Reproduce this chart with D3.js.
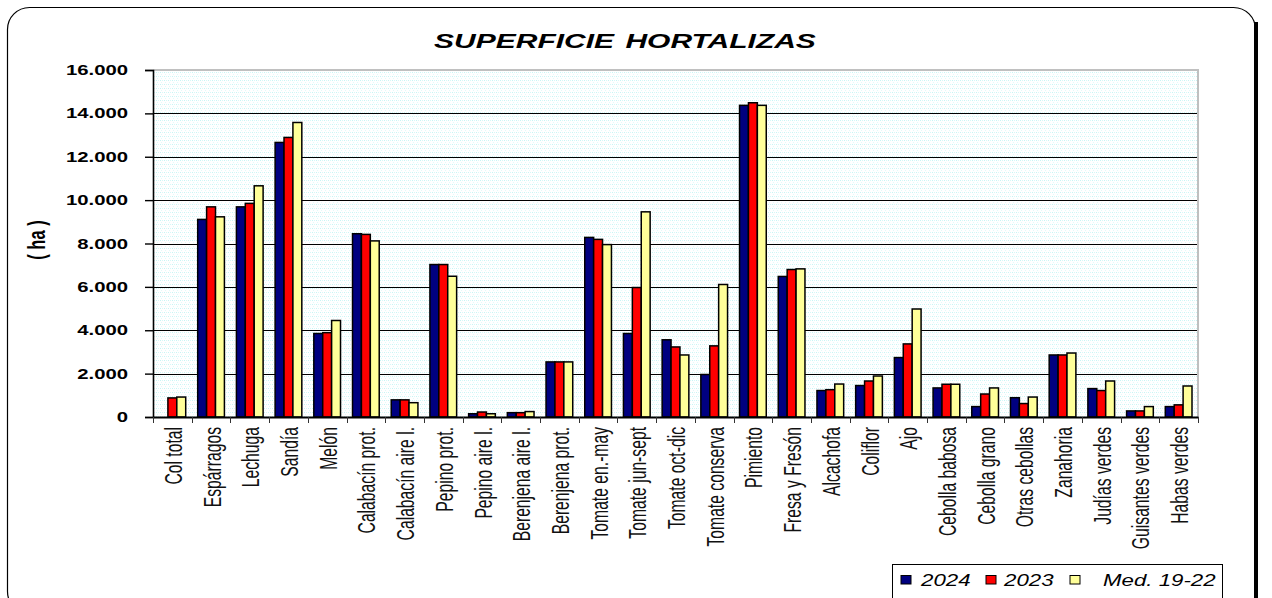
<!DOCTYPE html>
<html>
<head>
<meta charset="utf-8">
<script src="https://cdn.jsdelivr.net/npm/d3@7"></script>
<style>
  body { margin: 0; background: #fff; }
  svg { display: block; font-family: "Liberation Sans", Arial, sans-serif; }
</style>
</head>
<body>
<svg id="chart" width="1272" height="598"></svg>
<script>
var categories = ["Col total", "Espárragos", "Lechuga", "Sandía", "Melón", "Calabacín prot.",
	"Calabacín aire l.", "Pepino prot.", "Pepino aire l.", "Berenjena aire l.", "Berenjena prot.",
	"Tomate en.-may", "Tomate jun-sept", "Tomate oct-dic", "Tomate conserva", "Pimiento",
	"Fresa y Fresón", "Alcachofa", "Coliflor", "Ajo", "Cebolla babosa", "Cebolla grano",
	"Otras cebollas", "Zanahoria", "Judías verdes", "Guisantes verdes", "Habas verdes"];

var seriesNames = ["2024", "2023", "Med. 19-22"];
var seriesColors = ["#000080", "#ff0000", "#ffff99"];

var v2024 = [null, 9110, 9690, 12660, 3850, 8450, 790, 7030, 150, 200, 2540, 8280, 3850, 3560,
	1960, 14370, 6480, 1220, 1450, 2740, 1340, 480, 890, 2860, 1310, 280, 480];
var v2023 = [880, 9690, 9850, 12890, 3890, 8420, 790, 7030, 230, 200, 2540, 8190, 5970, 3230,
	3280, 14490, 6800, 1260, 1660, 3370, 1510, 1060, 620, 2860, 1220, 280, 560];
var vMed = [920, 9230, 10660, 13580, 4450, 8120, 660, 6490, 150, 250, 2540, 7950, 9460, 2860,
	6110, 14370, 6830, 1520, 1890, 4980, 1510, 1340, 920, 2950, 1660, 480, 1430];

var yTicks = [0, 2000, 4000, 6000, 8000, 10000, 12000, 14000, 16000];
var yTickLabels = ["0", "2.000", "4.000", "6.000", "8.000", "10.000", "12.000", "14.000", "16.000"];

(function() {
	var STRETCH = 1.45; // the picture is stretched sideways

	var svg = d3.select("#chart");
	var pLeft = 153, pRight = 1198, pTop = 70, pBottom = 417;

	// frame
	svg.append("rect")
		.attr("x", 7.5).attr("y", 7.5).attr("width", 1248).attr("height", 606).attr("rx", 22)
		.attr("fill", "#fff").attr("stroke", "#000").attr("stroke-width", 1.2);
	svg.append("line")
		.attr("x1", 1256).attr("x2", 1256).attr("y1", 22).attr("y2", 598)
		.attr("stroke", "#000").attr("stroke-width", 4);

	// dotted plot background
	var defs = svg.append("defs");
	var pat = defs.append("pattern").attr("id", "dots").attr("patternUnits", "userSpaceOnUse")
		.attr("width", 4).attr("height", 4);
	pat.append("rect").attr("width", 4).attr("height", 4).attr("fill", "#ffffff");
	pat.append("rect").attr("x", 0).attr("y", 0).attr("width", 1).attr("height", 1).attr("fill", "#c6f5f5");
	pat.append("rect").attr("x", 2).attr("y", 0).attr("width", 1).attr("height", 1).attr("fill", "#d8f8f8");
	pat.append("rect").attr("x", 1).attr("y", 2).attr("width", 1).attr("height", 1).attr("fill", "#e2fafa");

	var x0 = d3.scaleBand().domain(d3.range(categories.length)).range([pLeft, pRight]).padding(0);
	var x1 = d3.scaleBand().domain(d3.range(seriesNames.length))
		.range([x0.bandwidth() * 0.155, x0.bandwidth() * 0.845]).padding(0);
	var y = d3.scaleLinear().domain([0, 16000]).range([pBottom, pTop]);

	svg.append("rect")
		.attr("x", pLeft).attr("y", pTop).attr("width", pRight - pLeft).attr("height", pBottom - pTop)
		.attr("fill", "url(#dots)");

	// plot border (top and right, grey)
	svg.append("path")
		.attr("d", "M" + pLeft + "," + pTop + "H" + pRight + "V" + pBottom)
		.attr("fill", "none").attr("stroke", "#c0c0c0").attr("stroke-width", 2);

	// gridlines
	svg.append("g").selectAll("line")
		.data(yTicks.filter(function(d) { return d > 0 && d < 16000; }))
		.join("line")
		.attr("x1", pLeft).attr("x2", pRight - 1)
		.attr("y1", function(d) { return Math.round(y(d)) + 0.5; })
		.attr("y2", function(d) { return Math.round(y(d)) + 0.5; })
		.attr("stroke", "#000").attr("stroke-width", 1.1);

	// bars
	var seriesValues = [v2024, v2023, vMed];
	var groups = svg.append("g").selectAll("g")
		.data(categories)
		.join("g")
		.attr("transform", function(d, i) { return "translate(" + x0(i) + ",0)"; });

	groups.selectAll("rect")
		.data(function(d, i) {
			return seriesValues.map(function(vals, s) { return { s: s, v: vals[i] }; })
				.filter(function(e) { return e.v != null; });
		})
		.join("rect")
		.attr("x", function(e) { return x1(e.s); })
		.attr("y", function(e) { return y(e.v); })
		.attr("width", x1.bandwidth())
		.attr("height", function(e) { return pBottom - y(e.v); })
		.attr("fill", function(e) { return seriesColors[e.s]; })
		.attr("stroke", "#000").attr("stroke-width", 1.5);

	// y axis
	var yAxis = svg.append("g").attr("transform", "translate(" + pLeft + ",0)")
		.call(d3.axisLeft(y).tickValues(yTicks).tickSize(8).tickFormat(""));
	yAxis.select(".domain").attr("stroke", "#000").attr("stroke-width", 1.6);
	yAxis.selectAll(".tick line").attr("stroke", "#000").attr("stroke-width", 1.4);

	svg.append("g").selectAll("text")
		.data(yTicks)
		.join("text")
		.attr("transform", function(d) { return "translate(128," + y(d) + ") scale(" + STRETCH + ",1)"; })
		.attr("text-anchor", "end")
		.attr("dy", "0.36em")
		.attr("font-weight", "bold")
		.attr("font-size", 14)
		.text(function(d, i) { return yTickLabels[i]; });

	// x axis
	var xAxis = svg.append("g").attr("transform", "translate(0," + pBottom + ")")
		.call(d3.axisBottom(x0).tickSize(0).tickFormat(""));
	xAxis.select(".domain").attr("stroke", "#000").attr("stroke-width", 2);
	xAxis.selectAll(".tick").remove();
	svg.append("g").selectAll("line")
		.data(d3.range(categories.length + 1))
		.join("line")
		.attr("x1", function(i) { return Math.round(pLeft + i * x0.step()) + 0.5; })
		.attr("x2", function(i) { return Math.round(pLeft + i * x0.step()) + 0.5; })
		.attr("y1", pBottom).attr("y2", pBottom + 6)
		.attr("stroke", "#333").attr("stroke-width", 1);

	svg.append("g").selectAll("text")
		.data(categories)
		.join("text")
		.attr("transform", function(d, i) {
			return "translate(" + (x0(i) + x0.bandwidth() / 2 + 1) + ",427) scale(1.55,1) rotate(-90)";
		})
		.attr("text-anchor", "end")
		.attr("dy", "0.35em")
		.attr("font-size", 15.7)
		.attr("fill", "#111")
		.text(function(d) { return d; });

	// y label
	svg.append("text")
		.attr("transform", "translate(37,240) scale(" + STRETCH + ",1) rotate(-90)")
		.attr("text-anchor", "middle")
		.attr("dy", "0.35em")
		.attr("font-weight", "bold")
		.attr("font-size", 16.5)
		.text("( ha )");

	// title
	svg.append("text")
		.attr("transform", "translate(625,48) scale(1.5,1)")
		.attr("text-anchor", "middle")
		.attr("font-weight", "bold")
		.attr("font-style", "italic")
		.attr("font-size", 20)
		.attr("word-spacing", 2)
		.text("SUPERFICIE HORTALIZAS");

	// legend
	var legend = svg.append("g");
	legend.append("rect")
		.attr("x", 892.5).attr("y", 564.5).attr("width", 330).attr("height", 50)
		.attr("fill", "#fff").attr("stroke", "#000").attr("stroke-width", 1);
	var legX = [901, 986, 1070];
	var legTextX = [921, 1004, 1103];
	seriesNames.forEach(function(name, s) {
		legend.append("rect")
			.attr("x", legX[s]).attr("y", 575.5).attr("width", 10).attr("height", 8.5)
			.attr("fill", seriesColors[s]).attr("stroke", "#000").attr("stroke-width", 1);
		legend.append("text")
			.attr("transform", "translate(" + legTextX[s] + ",586) scale(1.35,1)")
			.attr("font-style", "italic")
			.attr("font-size", 16.5)
			.text(name);
	});
})();
</script>
</body>
</html>
